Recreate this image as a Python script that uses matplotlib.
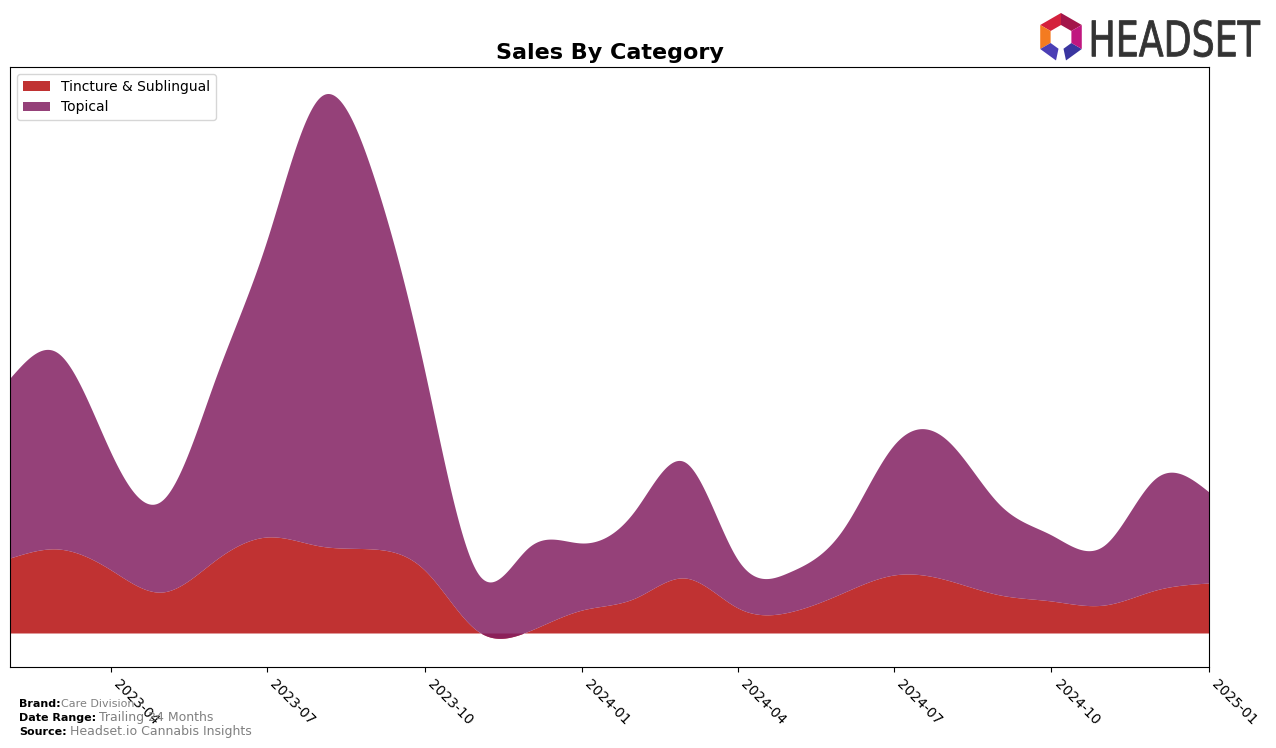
import numpy as np
import pandas as pd
import matplotlib
matplotlib.use("Agg")
import matplotlib.pyplot as plt
from matplotlib.patches import Polygon, PathPatch
from matplotlib.textpath import TextPath
from matplotlib.font_manager import FontProperties
from matplotlib.transforms import Affine2D

# monthly sales (arbitrary units)
months = pd.date_range("2023-02-01", "2025-01-01", freq="MS")
tincture = [75, 84, 63, 41, 73, 96, 87, 84, 63, 2, 2, 23,
            35, 55, 25, 21, 40, 58, 53, 38, 32, 28, 43, 50]
topical = [180, 196, 117, 92, 182, 297, 449, 374, 200, 58, 84, 67,
           88, 116, 48, 40, 63, 130, 140, 90, 66, 60, 112, 91]
labels = ["Tincture & Sublingual", "Topical"]
colors = ["#b50e0e", "#831f62"]
tick_dates = pd.date_range("2023-04-01", "2025-01-01", freq="3MS")


def natural_spline(x, y, xs):
    x = np.asarray(x, float)
    y = np.asarray(y, float)
    n = len(x)
    h = np.diff(x)
    A = np.zeros((n, n))
    b = np.zeros(n)
    A[0, 0] = 1
    A[-1, -1] = 1
    for i in range(1, n - 1):
        A[i, i - 1] = h[i - 1]
        A[i, i] = 2 * (h[i - 1] + h[i])
        A[i, i + 1] = h[i]
        b[i] = 6 * ((y[i + 1] - y[i]) / h[i] - (y[i] - y[i - 1]) / h[i - 1])
    M = np.linalg.solve(A, b)
    idx = np.clip(np.searchsorted(x, xs) - 1, 0, n - 2)
    x0, x1 = x[idx], x[idx + 1]
    hh = x1 - x0
    t0, t1 = x1 - xs, xs - x0
    return (M[idx] * t0 ** 3 / (6 * hh) + M[idx + 1] * t1 ** 3 / (6 * hh)
            + (y[idx] / hh - M[idx] * hh / 6) * t0
            + (y[idx + 1] / hh - M[idx + 1] * hh / 6) * t1)


xd = (months - months[0]).days.values.astype(float)
xs = np.linspace(xd[0], xd[-1], 800)
xs_dates = months[0] + pd.to_timedelta(xs, unit="D")

t_s = natural_spline(xd, tincture, xs)
tot_s = natural_spline(xd, np.array(tincture) + np.array(topical), xs)

fig = plt.figure(figsize=(12.76, 7.48), dpi=100)
ax = fig.add_axes([10 / 1276, 81 / 748, 1199 / 1276, 600 / 748])

ax.fill_between(xs_dates, 0, t_s, color=colors[0], alpha=0.85, lw=0, label=labels[0])
ax.fill_between(xs_dates, t_s, tot_s, color=colors[1], alpha=0.85, lw=0, label=labels[1])

ax.set_xlim(months[0], months[-1])
ax.set_ylim(-34, 566)
ax.set_yticks([])
ax.set_xticks(tick_dates)
ax.set_xticklabels([d.strftime("%Y-%m") for d in tick_dates], rotation=-45,
                   ha="left", fontsize=10)
ax.set_title("Sales By Category", fontsize=16, fontweight="bold", pad=6)
ax.legend(loc="upper left", fontsize=10, handlelength=2, borderaxespad=0.5)

# footer
fig.text(19 / 1276, 1 - 704 / 748, "Brand:", fontsize=8, fontweight="bold", va="center")
fig.text(61 / 1276, 1 - 704 / 748, "Care Division", fontsize=8, color="gray", va="center")
fig.text(19 / 1276, 1 - 718 / 748, "Date Range:", fontsize=8, fontweight="bold", va="center")
fig.text(99 / 1276, 1 - 718 / 748, "Trailing 24 Months", fontsize=9, color="gray", va="center")
fig.text(19 / 1276, 1 - 732 / 748, "Source:", fontsize=8, fontweight="bold", va="center")
fig.text(70 / 1276, 1 - 732 / 748, "Headset.io Cannabis Insights", fontsize=9, color="gray", va="center")

# logo
lax = fig.add_axes([1036 / 1276, (748 - 62) / 748, 230 / 1276, 50 / 748])
lax.set_xlim(0, 230)
lax.set_ylim(0, 50)
lax.axis("off")
cx, cy, ro, ri = 25, 25, 24, 12
seg_cols = ["#a3164a", "#d4213d", "#f47b20", "#4b3fb5", "#3a36a0", "#c0177f"]
angs = [30, 90, 150, 210, 270, 330, 390]
for k in range(6):
    a0, a1 = np.radians(angs[k]), np.radians(angs[k + 1])
    if k == 3:
        a1 = np.radians(258)
    if k == 4:
        a0 = np.radians(282)
    pts = [(cx + ro * np.cos(a0), cy + ro * np.sin(a0)),
           (cx + ro * np.cos(a1), cy + ro * np.sin(a1)),
           (cx + ri * np.cos(a1), cy + ri * np.sin(a1)),
           (cx + ri * np.cos(a0), cy + ri * np.sin(a0))]
    lax.add_patch(Polygon(pts, closed=True, color=seg_cols[k], lw=0))
tp = TextPath((0, 0), "HEADSET", size=1, prop=FontProperties(family="DejaVu Sans"))
ext = tp.get_extents()
sx = 168 / ext.width
sy = 37 / ext.height
tr = Affine2D().translate(-ext.x0, -ext.y0).scale(sx, sy).translate(56, 5)
lax.add_patch(PathPatch(tr.transform_path(tp), facecolor="#333333",
                        edgecolor="#333333", lw=0.6))

fig.savefig("out.png", dpi=100)
